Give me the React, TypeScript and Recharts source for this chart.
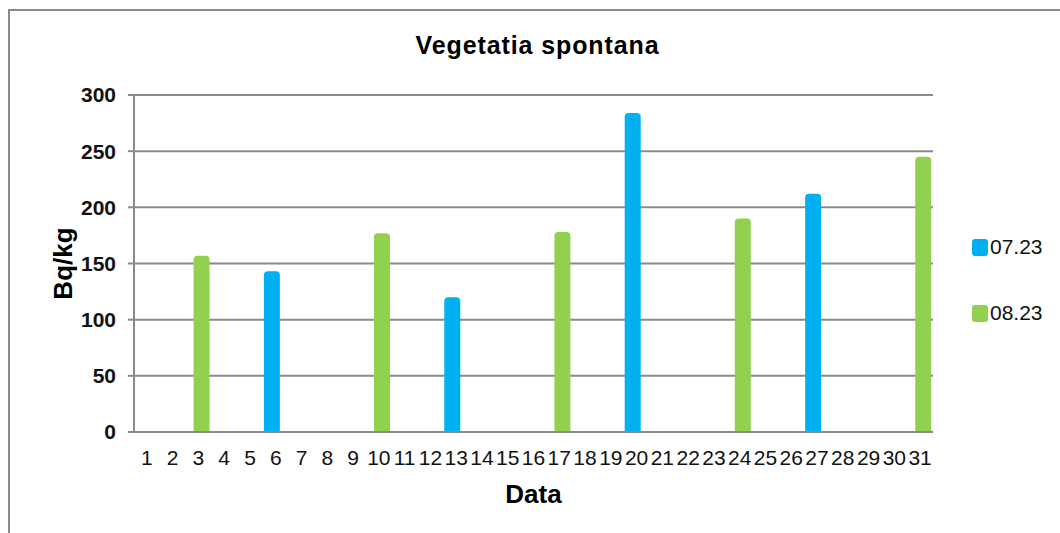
import { BarChart, Bar, XAxis, YAxis, CartesianGrid } from 'recharts';

// Vegetatia spontana – activity per day of month, Bq/kg

const days = [
  '1', '2', '3', '4', '5', '6', '7', '8', '9', '10', '11', '12', '13', '14', '15', '16',
  '17', '18', '19', '20', '21', '22', '23', '24', '25', '26', '27', '28', '29', '30', '31',
];

// 07.23 series (blue)
const july = [
  null, null, null, null, null, 143, null, null, null, null, null, null, 120, null, null, null,
  null, null, null, 284, null, null, null, null, null, null, 212, null, null, null, null,
];

// 08.23 series (green)
const august = [
  null, null, 157, null, null, null, null, null, null, 177, null, null, null, null, null, null,
  178, null, null, null, null, null, null, 190, null, null, null, null, null, null, 245,
];

const seriesNames = ['07.23', '08.23'];
const seriesColors = ['#00B0F0', '#92D050'];
const yTicks = [0, 50, 100, 150, 200, 250, 300];

const data = days.map((d, i) => ({ day: d, s1: july[i], s2: august[i] }));

const FONT = '"Liberation Sans", Arial, sans-serif';
const GRID = '#8a8a8a';

export default function App() {
  return (
    <div
      style={{
        position: 'fixed',
        left: 0,
        top: 0,
        width: 1060,
        height: 533,
        overflow: 'hidden',
        background: '#fff',
        fontFamily: FONT,
      }}
    >
      {/* outer chart frame, only top/left edges are visible */}
      <div
        style={{
          position: 'absolute',
          left: 8,
          top: 9,
          width: 1100,
          height: 600,
          borderTop: `2px solid ${GRID}`,
          borderLeft: `2px solid ${GRID}`,
        }}
      />

      <div
        style={{
          position: 'absolute',
          left: 0,
          top: 33,
          width: 1075,
          textAlign: 'center',
          fontSize: 25,
          lineHeight: '25px',
          fontWeight: 'bold',
          letterSpacing: 0.9,
          color: '#000',
        }}
      >
        Vegetatia spontana
      </div>

      <div style={{ position: 'absolute', left: 0, top: 0 }}>
        <BarChart
          width={1060}
          height={533}
          data={data}
          margin={{ top: 95, right: 127, left: 0, bottom: 0 }}
          barSize={16}
          barGap={-9}
        >
          <CartesianGrid vertical={false} stroke={GRID} strokeWidth={2} />
          <XAxis
            dataKey="day"
            height={101}
            interval={0}
            stroke={GRID}
            strokeWidth={2}
            tickLine={false}
            tickSize={0}
            tickMargin={18}
            tick={{ fill: '#111', fontSize: 21, fontFamily: FONT }}
            label={{
              content: ({ viewBox }: any) => (
                <text
                  x={viewBox.x + viewBox.width / 2}
                  y={503}
                  textAnchor="middle"
                  fontSize={26}
                  fontWeight="bold"
                  fontFamily={FONT}
                  fill="#000"
                >
                  Data
                </text>
              ),
            }}
          />
          <YAxis
            width={134}
            domain={[0, 300]}
            ticks={yTicks}
            interval={0}
            stroke={GRID}
            strokeWidth={2}
            tickSize={6}
            tickMargin={12}
            tick={{ fill: '#111', fontSize: 21, fontWeight: 'bold', fontFamily: FONT }}
            label={{
              content: ({ viewBox }: any) => {
                const cy = viewBox.y + viewBox.height / 2;
                return (
                  <text
                    x={72}
                    y={cy}
                    transform={`rotate(-90 72 ${cy})`}
                    textAnchor="middle"
                    fontSize={26}
                    fontWeight="bold"
                    fontFamily={FONT}
                    fill="#000"
                  >
                    Bq/kg
                  </text>
                );
              },
            }}
          />
          <Bar
            dataKey="s1"
            name={seriesNames[0]}
            fill={seriesColors[0]}
            radius={[4, 4, 0, 0]}
            isAnimationActive={false}
          />
          <Bar
            dataKey="s2"
            name={seriesNames[1]}
            fill={seriesColors[1]}
            radius={[4, 4, 0, 0]}
            isAnimationActive={false}
          />
        </BarChart>
      </div>

      {/* legend */}
      {seriesNames.map((name, i) => (
        <div
          key={name}
          style={{
            position: 'absolute',
            left: 972,
            top: 237 + i * 66,
            height: 20,
            display: 'flex',
            alignItems: 'center',
            fontSize: 21,
            color: '#111',
          }}
        >
          <span
            style={{
              display: 'inline-block',
              width: 16,
              height: 17,
              borderRadius: 3,
              background: seriesColors[i],
              marginRight: 2,
            }}
          />
          {name}
        </div>
      ))}
    </div>
  );
}
